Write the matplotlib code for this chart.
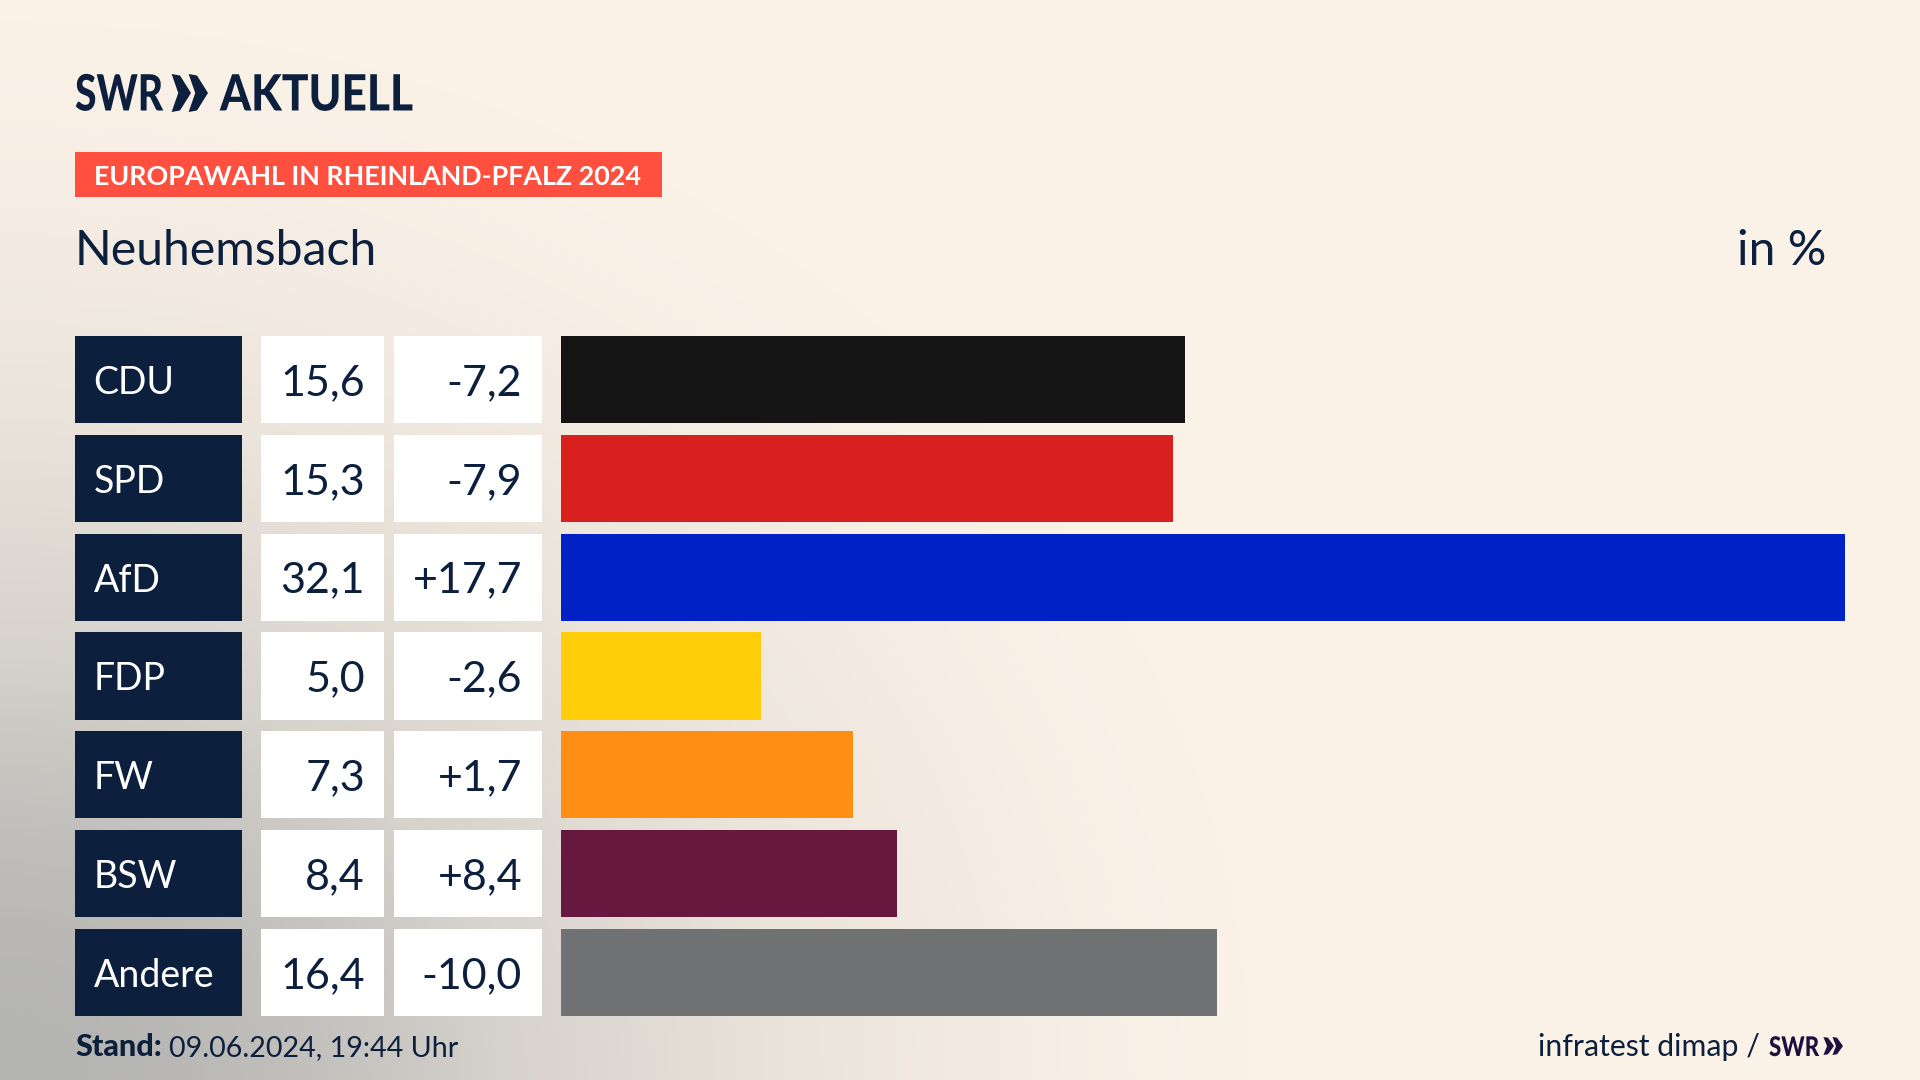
import numpy as np
import matplotlib
matplotlib.use("Agg")
import matplotlib.pyplot as plt
from matplotlib.colors import LinearSegmentedColormap
from matplotlib.patches import Rectangle, Polygon
from matplotlib.patheffects import AbstractPathEffect
from matplotlib.transforms import Affine2D, blended_transform_factory

parties = ["CDU", "SPD", "AfD", "FDP", "FW", "BSW", "Andere"]
shares = [15.6, 15.3, 32.1, 5.0, 7.3, 8.4, 16.4]
share_labels = ["15,6", "15,3", "32,1", "5,0", "7,3", "8,4", "16,4"]
diff_labels = ["-7,2", "-7,9", "+17,7", "-2,6", "+1,7", "+8,4", "-10,0"]
colors = ["#141414", "#D8201E", "#0021C6", "#FFCD0A", "#FF8E15", "#66183F", "#707173"]

NAVY = "#0C1F3D"
FONT = "Lato"
W, H = 1920, 1080


class Squeeze(AbstractPathEffect):
    """Condense a text horizontally about its left edge (the logo face is a narrow one)."""
    def __init__(self, sx, x0):
        super().__init__()
        self.sx, self.x0 = sx, x0

    def draw_path(self, renderer, gc, tpath, affine, rgbFace=None):
        squeeze = Affine2D().translate(-self.x0, 0).scale(self.sx, 1).translate(self.x0, 0)
        renderer.draw_path(gc, tpath, affine + squeeze, rgbFace)


fig = plt.figure(figsize=(19.2, 10.8), dpi=100)
ax = fig.add_axes([0, 0, 1, 1])
ax.set_xlim(0, W)
ax.set_ylim(H, 0)
ax.axis("off")

# background gradient
yy, xx = np.mgrid[0:H:270j, 0:W:480j]
d = np.sqrt((xx / 1300) ** 2 + ((H - yy) / 1100) ** 2)
t = np.clip(d, 0, 1)
t = t * t * (3 - 2 * t)
cmap = LinearSegmentedColormap.from_list("bg", ["#B4B4B2", "#D6D2CC", "#EBE4DB", "#FAF1E7"], N=256)
ax.imshow(t, extent=(0, W, H, 0), cmap=cmap, vmin=0, vmax=1, aspect="auto", zorder=0, interpolation="bilinear")
ax.set_xlim(0, W)
ax.set_ylim(H, 0)

# bars
bx = fig.add_axes([561 / W, 1 - 1016 / H, (1845 - 561) / W, (1016 - 336) / H])
bx.patch.set_alpha(0)
bx.axis("off")
y = np.arange(len(parties))
bh = 87 / 98.83
bx.barh(y, shares, height=bh, color=colors)
bx.set_xlim(0, max(shares))
bx.set_ylim(len(parties) - 1 + bh / 2, -bh / 2)

# table columns: x in pixels, y in row units
tr = blended_transform_factory(ax.transData, bx.transData)
for i, (p, s, dl) in enumerate(zip(parties, share_labels, diff_labels)):
    ax.add_patch(Rectangle((75, i - bh / 2), 167, bh, color=NAVY, lw=0, transform=tr, zorder=2))
    ax.add_patch(Rectangle((261, i - bh / 2), 123, bh, color="white", lw=0, transform=tr, zorder=2))
    ax.add_patch(Rectangle((394, i - bh / 2), 148, bh, color="white", lw=0, transform=tr, zorder=2))
    ax.text(93.5, i, p, transform=tr, color="white", fontsize=27, family=FONT, va="center_baseline", ha="left", zorder=3)
    ax.text(365, i, s, transform=tr, color=NAVY, fontsize=31, family=FONT, va="center_baseline", ha="right", zorder=3)
    ax.text(522, i, dl, transform=tr, color=NAVY, fontsize=31, family=FONT, va="center_baseline", ha="right", zorder=3)


def chevrons(x0, ytop, ybot, w, gap, col):
    ym = (ytop + ybot) / 2
    for k in range(2):
        x = x0 + k * gap
        ax.add_patch(Polygon([(x + w * 0.12, ytop), (x + w * 0.5, ytop + 0.04 * (ybot - ytop)), (x + w, ym),
                              (x + w * 0.5, ybot - 0.04 * (ybot - ytop)), (x + w * 0.12, ybot), (x + w * 0.42, ym)],
                             closed=True, color=col, lw=0, zorder=3))


def logo_text(x, ybase, s, size, width, col):
    txt = ax.text(x, ybase, s, color=col, fontsize=size, family=FONT, weight="black", va="baseline", ha="left", zorder=3)
    ext = txt.get_window_extent(fig.canvas.get_renderer())
    txt.set_path_effects([Squeeze(width / ext.width, x)])


# header
logo_text(75, 110.5, "SWR", 36, 88, NAVY)
chevrons(169, 74, 112, 22, 17, NAVY)
logo_text(220, 110.5, "AKTUELL", 36, 193, NAVY)

ax.add_patch(Rectangle((75, 152), 587, 45, color="#FF503F", lw=0, zorder=2))
ax.text(94, 175, "EUROPAWAHL IN RHEINLAND-PFALZ 2024", color="white", fontsize=19.4, family=FONT, weight="bold",
        va="center_baseline", ha="left", zorder=3)
ax.text(75, 265, "Neuhemsbach", color=NAVY, fontsize=34.7, family=FONT, va="baseline", ha="left", zorder=3)
ax.text(1826, 265, "in %", color=NAVY, fontsize=34.7, family=FONT, va="baseline", ha="right", zorder=3)

# footer
ax.text(75, 1056, "Stand:", color=NAVY, fontsize=22, family=FONT, weight="black", va="baseline", ha="left", zorder=3)
ax.text(169, 1056, "09.06.2024, 19:44 Uhr", color=NAVY, fontsize=20.6, family=FONT, va="baseline", ha="left", zorder=3)
ax.text(1760, 1056, "infratest dimap /", color=NAVY, fontsize=21.8, family=FONT, va="baseline", ha="right", zorder=3)
logo_text(1769, 1056, "SWR", 19.5, 50, "#1E0F3F")
chevrons(1822, 1037, 1055, 12, 9, "#1E0F3F")

fig.savefig("out.png", dpi=100)
